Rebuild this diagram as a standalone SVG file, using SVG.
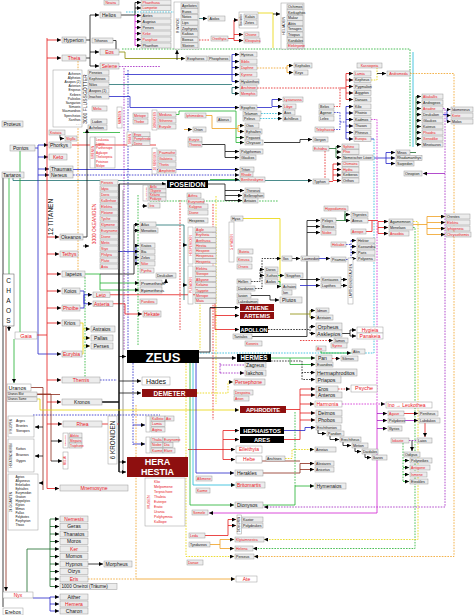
<svg xmlns="http://www.w3.org/2000/svg" width="474" height="615" viewBox="0 0 474 615">
<style>
text{font-family:"Liberation Sans",Arial,sans-serif;fill:#111}
.b{fill:#ececec;stroke:#9a9a9a;stroke-width:.5}
.w{fill:#fff;stroke:#9a9a9a;stroke-width:.5}
.k{fill:#000}
.q{fill:#8e0f0f}
.s{font-size:3.6px}
.m{font-size:5px}
.l{font-size:6px}
.r{fill:#e8141c}
.wb{fill:#fff;font-weight:bold;text-anchor:middle}
.c{text-anchor:middle}
.e{text-anchor:end}
#conn path{fill:none;stroke-width:.8}
.K{stroke:#111}.R{stroke:#e41b1b}.G{stroke:#1fb02f}.B{stroke:#2323c8}.Y{stroke:#e8d400}.O{stroke:#f0a020}.P{stroke:#a020c0}.M{stroke:#d020d0}.C{stroke:#20b8d8}.T{stroke:#1d6f6f}.N{stroke:#8b2a1a}.V{stroke:#8a8a00}.D{stroke:#1a6a2a}.GR{stroke:#808080}
.d{stroke-dasharray:1.6 1.2}
.h{stroke-width:1.5!important}
</style>
<defs>
<marker id="a" viewBox="0 0 6 6" refX="6" refY="3" markerWidth="4" markerHeight="4" orient="auto" markerUnits="userSpaceOnUse"><path d="M0,0L6,3L0,6z" fill="#000"/></marker>
</defs>
<rect width="474" height="615" fill="#fff"/>
<g id="conn">
<!-- texture dashed lines -->
<path class="O d" d="M78,61V270"/>
<path class="P d" d="M124,68V350"/>
<path class="B d" d="M128,70V350"/>
<path class="G d" d="M85,277V378"/>
<path class="R d" d="M180,200V330"/>
<path class="Y d" d="M200,285V350"/>
<path class="Y d" d="M216,196V404"/>
<path class="R d" d="M213,204V420"/>
<path class="G d" d="M138,195V345"/>
<path class="G d" d="M150,201H278"/>
<path class="Y" d="M243,218.5H280V283"/>
<path class="B d" d="M133,363V445"/>
<path class="B d" d="M33,415H160"/>
<path class="C d" d="M126,12H174"/>
<path class="P d" d="M119,66.5H160"/>
<path class="N" d="M37,394.5H60"/>
<!-- Hyperion -->
<path class="K" d="M86,40H90M86,58H90M90,15V66"/>
<path class="K" d="M90,15H99" marker-end="url(#a)"/>
<path class="K" d="M90,52H99" marker-end="url(#a)"/>
<path class="K" d="M90,66H99" marker-end="url(#a)"/>
<path class="K" d="M113,40.5H116V49"/>
<!-- Helios -->
<path class="K" d="M121,15H135M135,2.5V15"/>
<path class="K" d="M135,2.5H141" marker-end="url(#a)"/>
<path class="K" d="M135,8H141" marker-end="url(#a)"/>
<path class="M" d="M135,15V45.5"/>
<path class="M" d="M135,15.5H141" marker-end="url(#a)"/>
<path class="M" d="M135,21.5H141" marker-end="url(#a)"/>
<path class="M" d="M135,27.5H141" marker-end="url(#a)"/>
<path class="M" d="M135,33.5H141" marker-end="url(#a)"/>
<path class="M" d="M135,39.5H141" marker-end="url(#a)"/>
<path class="M" d="M135,45.5H141" marker-end="url(#a)"/>
<path class="G d" d="M122,49H410V147"/>
<path class="C" d="M413,52V147"/>
<path class="V" d="M119,52H125V58.5H185" marker-end="url(#a)"/>
<path class="K" d="M177,60V50" marker-end="url(#a)"/>
<path class="T" d="M199,18.5H207" marker-end="url(#a)"/>
<path class="R d" d="M199,40H210"/>
<path class="R" d="M228,38.5H234M234,20V40.5"/>
<path class="R" d="M234,20H238" marker-end="url(#a)"/>
<path class="R" d="M234,34.5H243" marker-end="url(#a)"/>
<path class="R" d="M234,40.5H243" marker-end="url(#a)"/>
<path class="Y" d="M255,13H273V48"/>
<path class="K" d="M273,14H280" marker-end="url(#a)"/>
<!-- Eos line to Hyrieus group -->
<path class="B" d="M125,74.5H232M232,54.5V81.5"/>
<path class="B" d="M232,54.5H239" marker-end="url(#a)"/>
<path class="B" d="M232,61.5H239" marker-end="url(#a)"/>
<path class="B" d="M232,67.5H239" marker-end="url(#a)"/>
<path class="B" d="M232,74.5H239" marker-end="url(#a)"/>
<path class="B" d="M232,81.5H239" marker-end="url(#a)"/>
<path class="O d" d="M257,68H287"/>
<path class="O" d="M287,65.5V72.5"/>
<path class="O" d="M287,65.5H293" marker-end="url(#a)"/>
<path class="O" d="M287,72.5H293" marker-end="url(#a)"/>
<path class="T" d="M109,84.5H232M232,87.5V93.5"/>
<path class="T" d="M232,87.5H239" marker-end="url(#a)"/>
<path class="T" d="M232,93.5H239" marker-end="url(#a)"/>
<path class="R d" d="M257,88H340V106.5H334"/>
<path class="R" d="M340,88H346M346,73.5V99.5"/>
<path class="R" d="M346,73.5H353" marker-end="url(#a)"/>
<path class="R" d="M346,80H353" marker-end="url(#a)"/>
<path class="R" d="M346,86.5H353" marker-end="url(#a)"/>
<path class="R" d="M346,93H353" marker-end="url(#a)"/>
<path class="R" d="M346,99.5H353" marker-end="url(#a)"/>
<path class="B d" d="M334,112.5H340V129.5H334M340,122H346"/>
<path class="B" d="M346,106.5V139"/>
<path class="B" d="M346,106.5H353" marker-end="url(#a)"/>
<path class="B" d="M346,113H353" marker-end="url(#a)"/>
<path class="B" d="M346,119.5H353" marker-end="url(#a)"/>
<path class="B" d="M346,126H353" marker-end="url(#a)"/>
<path class="B" d="M346,132.5H353" marker-end="url(#a)"/>
<path class="B" d="M346,139H353" marker-end="url(#a)"/>
<path class="B" d="M109,96.5H130V107.5H239" marker-end="url(#a)"/>
<path class="B" d="M257,107.5H272M272,99.5V106.5"/>
<path class="B" d="M272,99.5H282" marker-end="url(#a)"/>
<path class="B" d="M272,106.5H282" marker-end="url(#a)"/>
<path class="C d" d="M261,113.5H282" marker-end="url(#a)"/>
<path class="C d" d="M260,118.5H282" marker-end="url(#a)"/>
<path class="Y d" d="M371,80H377V65.5H382"/>
<path class="K" d="M377,73.5H386" marker-end="url(#a)"/>
<path class="O d" d="M410,73.5H454V556.5H254" marker-end="url(#a)"/>
<path class="P d" d="M443,108.5H445V507H264" marker-end="url(#a)"/>
<path class="P" d="M445,173.5H423" marker-end="url(#a)"/>
<path class="D" d="M410,152.5H416M416,96.5V144.5"/>
<path class="D" d="M416,96.5H421" marker-end="url(#a)"/>
<path class="D" d="M416,102.5H421" marker-end="url(#a)"/>
<path class="D" d="M416,108.5H421" marker-end="url(#a)"/>
<path class="D" d="M416,114.5H421" marker-end="url(#a)"/>
<path class="D" d="M416,120.5H421" marker-end="url(#a)"/>
<path class="D" d="M416,126.5H421" marker-end="url(#a)"/>
<path class="D" d="M416,132.5H421" marker-end="url(#a)"/>
<path class="D" d="M416,138.5H421" marker-end="url(#a)"/>
<path class="D" d="M416,144.5H421" marker-end="url(#a)"/>
<path class="B" d="M443,114.5H447M447,109.5V121.5"/>
<path class="B" d="M447,109.5H450.5" marker-end="url(#a)"/>
<path class="B" d="M447,115.5H450.5" marker-end="url(#a)"/>
<path class="B" d="M447,121.5H450.5" marker-end="url(#a)"/>
<path class="B" d="M371,139H374M374,158H386M386,152.5V163.5"/>
<path class="B" d="M386,152.5H395" marker-end="url(#a)"/>
<path class="B" d="M386,158H395" marker-end="url(#a)"/>
<path class="B" d="M386,163.5H395" marker-end="url(#a)"/>
<path class="C d" d="M374,139V353H200"/>
<path class="M d" d="M371,119.5H377V405"/>
<path class="M d" d="M342,404H385" marker-end="url(#a)"/>
<path class="D" d="M329,148.5H336M336,146.5V157.5"/>
<path class="D" d="M336,146.5H341" marker-end="url(#a)"/>
<path class="D" d="M336,152H341" marker-end="url(#a)"/>
<path class="D" d="M336,157.5H341" marker-end="url(#a)"/>
<path class="R" d="M329,181.5H333M333,164V180.5"/>
<path class="R" d="M333,164H341" marker-end="url(#a)"/>
<path class="R" d="M333,169.5H341" marker-end="url(#a)"/>
<path class="R" d="M333,175H341" marker-end="url(#a)"/>
<path class="R" d="M333,180.5H341" marker-end="url(#a)"/>
<path class="R d" d="M325,151V179"/>
<path class="T" d="M13,178V180.5H312" marker-end="url(#a)"/>
<path class="K" d="M264,142.5H300V139.5H312" marker-end="url(#a)"/>
<!-- Pontos -->
<path class="B" d="M35,148H38M38,145V354"/>
<path class="B" d="M38,145H48" marker-end="url(#a)"/>
<path class="B" d="M38,157H48" marker-end="url(#a)"/>
<path class="B" d="M38,169H49" marker-end="url(#a)"/>
<path class="B" d="M38,175H49" marker-end="url(#a)"/>
<path class="B" d="M38,354H61" marker-end="url(#a)"/>
<path class="G" d="M20,151V332M9,178V274"/>
<path class="G" d="M14,339V383" marker-end="url(#a)"/>
<path class="K" d="M3,178V607"/>
<path class="K" d="M9,326V331" marker-end="url(#a)"/>
<path class="N" d="M6,326V591" marker-end="url(#a)"/>
<path class="R" d="M72,145H156"/>
<path class="K" d="M60,135V138.5H64" marker-end="url(#a)"/>
<path class="G" d="M83,132.5H120"/>
<path class="G" d="M176,114.5H179V111H236V142.5"/>
<path class="G" d="M236,137.5H244" marker-end="url(#a)"/>
<path class="G" d="M236,142.5H244" marker-end="url(#a)"/>
<path class="O" d="M206,115.5H212V128.5H238M238,125.5V131.5"/>
<path class="O" d="M238,125.5H244" marker-end="url(#a)"/>
<path class="O" d="M238,131.5H244" marker-end="url(#a)"/>
<path class="O" d="M184,129.5H192" marker-end="url(#a)"/>
<path class="K" d="M202,144.5H225V151.5H239" marker-end="url(#a)"/>
<path class="K" d="M225,151.5V157.5H239" marker-end="url(#a)"/>
<path class="B" d="M73,169.5H239" marker-end="url(#a)"/>
<path class="B d" d="M73,175H239" marker-end="url(#a)"/>
<path class="G" d="M210,179.5H239" marker-end="url(#a)"/>
<path class="K" d="M208,184H225M225,184V200.5"/>
<path class="K" d="M225,190.5H244" marker-end="url(#a)"/>
<path class="K" d="M225,195.5H242" marker-end="url(#a)"/>
<path class="K" d="M225,200.5H242" marker-end="url(#a)"/>
<path class="K" d="M142,206H147" marker-end="url(#a)"/>
<!-- Titans -->
<path class="R" d="M47,38V488.5M37,335H47"/>
<path class="R" d="M47,40H61" marker-end="url(#a)"/>
<path class="R" d="M47,58H61" marker-end="url(#a)"/>
<path class="R" d="M47,237H59" marker-end="url(#a)"/>
<path class="R" d="M47,254H59" marker-end="url(#a)"/>
<path class="R" d="M47,274H61" marker-end="url(#a)"/>
<path class="R" d="M47,291H61" marker-end="url(#a)"/>
<path class="R" d="M47,308H61" marker-end="url(#a)"/>
<path class="R" d="M47,323H61" marker-end="url(#a)"/>
<path class="R" d="M47,380H61" marker-end="url(#a)"/>
<path class="R" d="M47,402H61" marker-end="url(#a)"/>
<path class="R" d="M47,424H62" marker-end="url(#a)"/>
<path class="R" d="M47,488.5H59" marker-end="url(#a)"/>
<path class="N" d="M31,387.5H43V490"/>
<path class="K" d="M43,427H35" marker-end="url(#a)"/>
<path class="K" d="M43,456H35" marker-end="url(#a)"/>
<path class="K" d="M43,483H39" marker-end="url(#a)"/>
<path class="N" d="M37,394H51V461"/>
<path class="K" d="M51,441H62" marker-end="url(#a)"/>
<path class="K" d="M51,461H62" marker-end="url(#a)"/>
<path class="K" d="M83,237H87V129" marker-end="url(#a)"/>
<path class="K" d="M83,246H89" marker-end="url(#a)"/>
<path class="G" d="M85,274H100V290H139" marker-end="url(#a)"/>
<path class="G" d="M100,283H139" marker-end="url(#a)"/>
<path class="K" d="M100,274H134V224.5"/>
<path class="K" d="M134,224.5H139" marker-end="url(#a)"/>
<path class="K" d="M134,230.5H139" marker-end="url(#a)"/>
<path class="B" d="M118,251.5H136M136,245.5V263.5"/>
<path class="B" d="M136,245.5H139" marker-end="url(#a)"/>
<path class="B" d="M136,251.5H139" marker-end="url(#a)"/>
<path class="B" d="M136,257.5H139" marker-end="url(#a)"/>
<path class="B" d="M136,263.5H139" marker-end="url(#a)"/>
<path class="K" d="M162,283H166V279" marker-end="url(#a)"/>
<path class="B" d="M80,291H84V308H80M84,294.75V303.75"/>
<path class="B" d="M84,294.75H92" marker-end="url(#a)"/>
<path class="B" d="M84,303.75H92" marker-end="url(#a)"/>
<path class="R" d="M110,294.75H215V329.5M215,308H210"/>
<path class="R" d="M215,315.5H239" marker-end="url(#a)"/>
<path class="R" d="M215,329.5H239" marker-end="url(#a)"/>
<path class="R" d="M113,303.75H125V314H142" marker-end="url(#a)"/>
<path class="Y" d="M80,323H83M82,354H83M83,323V354"/>
<path class="Y" d="M83,329H90" marker-end="url(#a)"/>
<path class="Y" d="M83,338H90" marker-end="url(#a)"/>
<path class="Y" d="M83,346H90" marker-end="url(#a)"/>
<path class="B d" d="M100,380H117"/>
<!-- Kroniden -->
<path class="K h" d="M102,402H119M119,184V472"/>
<path class="R" d="M102,424H119"/>
<path class="GR" d="M123,190V470"/>
<path class="K" d="M119,184H166" marker-end="url(#a)"/>
<path class="K" d="M119,356.5H126" marker-end="url(#a)"/>
<path class="K" d="M119,381H141" marker-end="url(#a)"/>
<path class="K" d="M119,393H141" marker-end="url(#a)"/>
<path class="K" d="M119,462H126" marker-end="url(#a)"/>
<path class="K" d="M119,472H126" marker-end="url(#a)"/>
<path class="B" d="M133,425H145" marker-end="url(#a)"/>
<path class="B" d="M133,444H145" marker-end="url(#a)"/>
<!-- Zeus -->
<path class="K" d="M199,358H236" marker-end="url(#a)"/>
<path class="K" d="M199,352H210V307.5H239" marker-end="url(#a)"/>
<path class="Y d" d="M197,393H228V382H233" marker-end="url(#a)"/>
<path class="P d" d="M220,363V373M220,365H244"/>
<path class="P d" d="M220,373H244" marker-end="url(#a)"/>
<path class="R" d="M188,449.5H223M223,430.5V459.5"/>
<path class="R" d="M223,430.5H239" marker-end="url(#a)"/>
<path class="R" d="M223,439.5H239" marker-end="url(#a)"/>
<path class="R" d="M223,449.5H235" marker-end="url(#a)"/>
<path class="R" d="M223,459.5H235" marker-end="url(#a)"/>
<path class="Y" d="M37,399H40V410H239" marker-end="url(#a)"/>
<path class="R" d="M286,409.5H300M300,389V439.5H284"/>
<path class="R" d="M300,389H315" marker-end="url(#a)"/>
<path class="R" d="M300,395H315" marker-end="url(#a)"/>
<path class="R" d="M300,404H314" marker-end="url(#a)"/>
<path class="R" d="M300,413H315" marker-end="url(#a)"/>
<path class="R" d="M300,420H315" marker-end="url(#a)"/>
<path class="B" d="M284,430.5H305V427.5H315" marker-end="url(#a)"/>
<path class="Y d" d="M285,458.5H292V449.5H314" marker-end="url(#a)"/>
<path class="N" d="M262,461H300M263,473H300M300,463.5V473"/>
<path class="N" d="M300,463.5H314" marker-end="url(#a)"/>
<path class="N" d="M300,469.5H314" marker-end="url(#a)"/>
<path class="G d" d="M295,412V486"/>
<path class="G" d="M263,505H295V486H314" marker-end="url(#a)"/>
<path class="B" d="M196,363V473H234" marker-end="url(#a)"/>
<path class="C" d="M193,363V485H235" marker-end="url(#a)"/>
<path class="G" d="M190,363V505H234" marker-end="url(#a)"/>
<path class="M" d="M377,405V513H209" marker-end="url(#a)"/>
<path class="R" d="M205,535.5H228V519.5M228,519.5H236" marker-end="url(#a)"/>
<path class="R" d="M228,525.5H236" marker-end="url(#a)"/>
<path class="O" d="M210,544.5H220M220,539.5V548.5"/>
<path class="O" d="M220,539.5H234" marker-end="url(#a)"/>
<path class="O" d="M220,548.5H234" marker-end="url(#a)"/>
<path class="Y d" d="M186,363V556.5H234" marker-end="url(#a)"/>
<path class="O d" d="M88,579H136M136,405V579"/>
<path class="O" d="M136,579H235" marker-end="url(#a)"/>
<!-- Nyx -->
<path class="D" d="M27,592V549H50M50,519V586.5"/>
<path class="D" d="M50,519H59" marker-end="url(#a)"/>
<path class="D" d="M50,526.5H59" marker-end="url(#a)"/>
<path class="D" d="M50,534H59" marker-end="url(#a)"/>
<path class="D" d="M50,541.5H59" marker-end="url(#a)"/>
<path class="D" d="M50,549H59" marker-end="url(#a)"/>
<path class="D" d="M50,556.5H59" marker-end="url(#a)"/>
<path class="D" d="M50,564H59" marker-end="url(#a)"/>
<path class="D" d="M50,571.5H59" marker-end="url(#a)"/>
<path class="D" d="M50,579H59" marker-end="url(#a)"/>
<path class="D" d="M50,586.5H59" marker-end="url(#a)"/>
<path class="K" d="M88,564H103" marker-end="url(#a)"/>
<path class="B" d="M33,598H50M50,597V611"/>
<path class="B" d="M50,597H59" marker-end="url(#a)"/>
<path class="B" d="M50,604H59" marker-end="url(#a)"/>
<path class="B" d="M50,611H59" marker-end="url(#a)"/>
<!-- Atlas / Pleiaden -->
<path class="T" d="M156,225H184V300"/>
<path class="T" d="M184,245H187" marker-end="url(#a)"/>
<path class="T" d="M184,285H187" marker-end="url(#a)"/>
<path class="K d" d="M251,281.5H260M260,269.5V281.5"/>
<path class="K" d="M260,269.5H264" marker-end="url(#a)"/>
<path class="K" d="M260,275.5H264" marker-end="url(#a)"/>
<path class="G" d="M278,275.5H284" marker-end="url(#a)"/>
<path class="G" d="M278,281.5H280V286.5H281" marker-end="url(#a)"/>
<path class="K d" d="M255,288.5H262V258.5H281" marker-end="url(#a)"/>
<path class="K" d="M292,258.5H300" marker-end="url(#a)"/>
<path class="B" d="M318,258.5H330" marker-end="url(#a)"/>
<path class="K" d="M251,295.5H270V300H279" marker-end="url(#a)"/>
<path class="K" d="M252,336.5H307V220.5H320" marker-end="url(#a)"/>
<path class="K" d="M307,226.5H320" marker-end="url(#a)"/>
<path class="K" d="M307,232.5H320" marker-end="url(#a)"/>
<path class="D" d="M336,220.5H345V208.5H348M345,214.5V220.5"/>
<path class="D" d="M345,214.5H350" marker-end="url(#a)"/>
<path class="D" d="M345,220.5H350" marker-end="url(#a)"/>
<path class="R" d="M368,220.5H378M366,231.5H372V220.5M378,221.5V233.5"/>
<path class="R" d="M378,221.5H388" marker-end="url(#a)"/>
<path class="R" d="M378,227.5H388" marker-end="url(#a)"/>
<path class="R" d="M378,233.5H388" marker-end="url(#a)"/>
<path class="O" d="M413,224.5H427M427,216.5V234.5"/>
<path class="O" d="M427,216.5H445" marker-end="url(#a)"/>
<path class="O" d="M427,222.5H445" marker-end="url(#a)"/>
<path class="O" d="M427,228.5H445" marker-end="url(#a)"/>
<path class="O" d="M427,234.5H445" marker-end="url(#a)"/>
<path class="G d" d="M413,227.5H415V548.5H253" marker-end="url(#a)"/>
<path class="Y d" d="M413,221.5H418V539.5H264" marker-end="url(#a)"/>
<path class="B d" d="M346,244.5H351M346,259.5H351M351,240.5V258.5"/>
<path class="B" d="M351,240.5H356" marker-end="url(#a)"/>
<path class="B" d="M351,246.5H356" marker-end="url(#a)"/>
<path class="B" d="M351,252.5H356" marker-end="url(#a)"/>
<path class="B" d="M351,258.5H356" marker-end="url(#a)"/>
<path class="K" d="M300,279.5H320" marker-end="url(#a)"/>
<path class="B" d="M300,285.5H320" marker-end="url(#a)"/>
<path class="K" d="M341,279.5H347" marker-end="url(#a)"/>
<path class="K" d="M341,285.5H347" marker-end="url(#a)"/>
<path class="K d" d="M268,329.5H310M310,326.5V333.5"/>
<path class="K" d="M310,326.5H315" marker-end="url(#a)"/>
<path class="K" d="M310,333.5H315" marker-end="url(#a)"/>
<path class="K" d="M342,333.5H350M350,330V336"/>
<path class="K" d="M350,330H356" marker-end="url(#a)"/>
<path class="K" d="M350,336H356" marker-end="url(#a)"/>
<path class="V" d="M290,314H310M310,310.5V317.5"/>
<path class="V" d="M310,310.5H315" marker-end="url(#a)"/>
<path class="V" d="M310,317.5H315" marker-end="url(#a)"/>
<path class="R d" d="M300,340.5H333" marker-end="url(#a)"/>
<path class="G" d="M271,358H315" marker-end="url(#a)"/>
<path class="G" d="M290,358V364.5H315" marker-end="url(#a)"/>
<path class="K d" d="M271,361H302V372.5H315" marker-end="url(#a)"/>
<path class="K d" d="M302,372.5V379.5H315" marker-end="url(#a)"/>
<path class="R d" d="M332,358.5H340" marker-end="url(#a)"/>
<path class="G" d="M321,351V353H351" marker-end="url(#a)"/>
<path class="R d" d="M338,389H350" marker-end="url(#a)"/>
<!-- Attika / Theben -->
<path class="K" d="M318,430V433.5H326" marker-end="url(#a)"/>
<path class="K" d="M330,436V439.5H339" marker-end="url(#a)"/>
<path class="K" d="M343,442V445.5H351" marker-end="url(#a)"/>
<path class="K" d="M355,448V451.5H361" marker-end="url(#a)"/>
<path class="K" d="M365,454V457.5H371" marker-end="url(#a)"/>
<path class="P" d="M377,413.5H387" marker-end="url(#a)"/>
<path class="P" d="M377,420.5H387" marker-end="url(#a)"/>
<path class="P" d="M377,428.5H387" marker-end="url(#a)"/>
<path class="R" d="M404,413.5H418" marker-end="url(#a)"/>
<path class="P" d="M405,420.5H418" marker-end="url(#a)"/>
<path class="R" d="M425,423V437" marker-end="url(#a)"/>
<path class="P d" d="M409,440.5H416"/>
<path class="K" d="M412,440.5V451" marker-end="url(#a)"/>
<path class="G d" d="M403,443V481.5"/>
<path class="G" d="M403,460.5H409" marker-end="url(#a)"/>
<path class="G" d="M403,467.5H409" marker-end="url(#a)"/>
<path class="G" d="M403,474.5H409" marker-end="url(#a)"/>
<path class="G" d="M403,481.5H409" marker-end="url(#a)"/>
</g>
<g id="nodes">
<!-- top -->
<g id="n-neaira"><rect class="b" x="104" y="0" width="15" height="5"/><text class="s r" x="105.5" y="3.9">Neaira</text></g>
<g id="n-helios"><rect class="b" x="100" y="12" width="21" height="6"/><text class="m" x="102" y="16.8">Helios</text></g>
<g id="n-hyperion"><rect class="b" x="62" y="37" width="24" height="6"/><text class="m" x="63.5" y="41.8">Hyperion</text></g>
<g id="n-theia"><rect class="b" x="62" y="55" width="24" height="6"/><text class="m r c" x="74" y="59.8">Theia</text></g>
<g id="n-tithonos"><rect class="b" x="92" y="38" width="21" height="5"/><text class="s" x="94" y="41.9">Tithonos</text></g>
<g id="n-eos"><rect class="b" x="100" y="49" width="19" height="6"/><text class="m r c" x="109.5" y="53.8">Eos</text></g>
<g id="n-selene"><rect class="b" x="100" y="63" width="19" height="6"/><text class="m r c" x="109.5" y="67.8">Selene</text></g>
<g id="n-heliades-l">
<rect class="b" x="141" y="0" width="30" height="5"/><text class="s r" x="142.5" y="3.9">Phaethusa</text>
<rect class="b" x="141" y="5.5" width="30" height="5"/><text class="s r" x="142.5" y="9.4">Lampetie</text>
<rect class="b" x="141" y="13" width="30" height="5"/><text class="s" x="142.5" y="16.9">Aietes</text>
<rect class="b" x="141" y="19" width="30" height="5"/><text class="s" x="142.5" y="22.9">Augeias</text>
<rect class="b" x="141" y="25" width="30" height="5"/><text class="s" x="142.5" y="28.9">Perses</text>
<rect class="b" x="141" y="31" width="30" height="5"/><text class="s r" x="142.5" y="34.9">Kirke</text>
<rect class="b" x="141" y="37" width="30" height="5"/><text class="s r" x="142.5" y="40.9">Pasiphae</text>
<rect class="b" x="141" y="43" width="30" height="5"/><text class="s" x="142.5" y="46.9">Phaethon</text>
</g>
<g id="n-anemoi"><rect class="w" x="174" y="2" width="25" height="47"/><text class="s c" transform="translate(179,25.5) rotate(-90)">8 WINDE</text>
<rect class="b" x="181" y="3" width="17" height="5"/><text class="s" x="182" y="6.9">Apeliotes</text>
<rect class="b" x="181" y="8.7" width="17" height="5"/><text class="s" x="182" y="12.6">Euros</text>
<rect class="b" x="181" y="14.4" width="17" height="5"/><text class="s" x="182" y="18.3">Notos</text>
<rect class="b" x="181" y="20.1" width="17" height="5"/><text class="s" x="182" y="24">Lips</text>
<rect class="b" x="181" y="25.8" width="17" height="5"/><text class="s" x="182" y="29.7">Zephyros</text>
<rect class="b" x="181" y="31.5" width="17" height="5"/><text class="s" x="182" y="35.4">Kaikias</text>
<rect class="b" x="181" y="37.2" width="17" height="5"/><text class="s" x="182" y="41.1">Boreas</text>
<rect class="b" x="181" y="42.9" width="17" height="5"/><text class="s" x="182" y="46.8">Skeiron</text>
</g>
<g id="n-aiolos-w"><rect class="b" x="208" y="16" width="17" height="5"/><text class="s" x="209.5" y="19.9">Aiolos</text></g>
<g id="n-boreaden"><rect class="w" x="239" y="12" width="19" height="16"/><text class="s c" transform="translate(242,20) rotate(-90)" style="font-size:2.6px">Boreaden</text>
<rect class="b" x="244" y="14" width="13" height="5"/><text class="s" x="245" y="17.9">Kalais</text>
<rect class="b" x="244" y="20" width="13" height="5"/><text class="s" x="245" y="23.9">Zetes</text></g>
<g id="n-oreithyia"><rect class="b" x="211" y="36" width="17" height="5"/><text class="s r" x="212" y="39.9">Oreithyia</text></g>
<g id="n-chione"><rect class="b" x="244" y="32" width="15" height="5"/><text class="s r" x="245" y="35.9">Chione</text></g>
<g id="n-kleopatra"><rect class="b" x="244" y="38" width="16" height="5"/><text class="s r" x="245" y="41.9">Kleopatra</text></g>
<g id="n-heliaden"><rect class="w" x="281" y="3" width="23" height="46"/><text class="s c" transform="translate(284.5,26) rotate(-90)">HELIADEN</text>
<rect class="b" x="287" y="4" width="16" height="5"/><text class="s" x="288" y="7.9">Ochimos</text>
<rect class="b" x="287" y="9.6" width="16" height="5"/><text class="s" x="288" y="13.5">Kerkaphos</text>
<rect class="b" x="287" y="15.2" width="16" height="5"/><text class="s" x="288" y="19.1">Makar</text>
<rect class="b" x="287" y="20.8" width="16" height="5"/><text class="s" x="288" y="24.7">Aktis</text>
<rect class="b" x="287" y="26.4" width="16" height="5"/><text class="s" x="288" y="30.3">Tenages</text>
<rect class="b" x="287" y="32" width="16" height="5"/><text class="s" x="288" y="35.9">Triopas</text>
<rect class="b" x="287" y="37.6" width="16" height="5"/><text class="s" x="288" y="41.5">Kandalos</text>
<rect class="b" x="287" y="43.2" width="16" height="5"/><text class="s r" x="288" y="47.1">Elektryone</text>
</g>
<g id="n-eosphoros"><rect class="b" x="186" y="56" width="21" height="5"/><text class="s" x="187" y="59.9">Eosphoros</text></g>
<g id="n-phosphoros"><rect class="b" x="208" y="56" width="22" height="5"/><text class="s" x="209" y="59.9">Phosphoros</text></g>
<g id="n-hyrieus"><rect class="b" x="240" y="52" width="17" height="5"/><text class="s" x="241" y="55.9">Hyrieus</text></g>
<g id="n-biblis"><rect class="b" x="240" y="59" width="17" height="5"/><text class="s r" x="241" y="62.9">Biblis</text></g>
<g id="n-daphne"><rect class="b" x="240" y="65" width="17" height="5"/><text class="s r" x="241" y="68.9">Daphne</text></g>
<g id="n-kyrene"><rect class="b" x="240" y="72" width="17" height="5"/><text class="s r" x="241" y="75.9">Kyrene</text></g>
<g id="n-hyakinthos"><rect class="b" x="240" y="79" width="19" height="5"/><text class="s" x="241" y="82.9">Hyakinthos</text></g>
<g id="n-anchinoe"><rect class="b" x="240" y="85" width="17" height="5"/><text class="s r" x="241" y="88.9">Anchinoe</text></g>
<g id="n-memphis"><rect class="b" x="240" y="91" width="17" height="5"/><text class="s r" x="241" y="94.9">Memphis</text></g>
<g id="n-kephalos"><rect class="b" x="294" y="63" width="18" height="5"/><text class="s" x="295" y="66.9">Kephalos</text></g>
<g id="n-keyx"><rect class="b" x="294" y="70" width="14" height="5"/><text class="s" x="295" y="73.9">Keyx</text></g>
<g id="n-epaphos"><rect class="b" x="240" y="105" width="17" height="5"/><text class="s" x="241" y="108.9">Epaphos</text></g>
<g id="n-telamon"><rect class="b" x="243" y="111" width="18" height="5"/><text class="s" x="244" y="114.9">Telamon</text></g>
<g id="n-peleus"><rect class="b" x="243" y="116" width="17" height="5"/><text class="s" x="244" y="119.9">Peleus</text></g>
<g id="n-lysianassa"><rect class="b" x="283" y="97" width="20" height="5"/><text class="s r" x="284" y="100.9">Lysianassa</text></g>
<g id="n-libye"><rect class="b" x="283" y="104" width="13" height="5"/><text class="s r" x="284" y="107.9">Libye</text></g>
<g id="n-aias"><rect class="b" x="283" y="110" width="12" height="5"/><text class="s" x="284" y="113.9">Aias</text></g>
<g id="n-achilleus"><rect class="b" x="283" y="116" width="18" height="5"/><text class="s" x="284" y="119.9">Achilleus</text></g>
<g id="n-kassiopeia"><rect class="b" x="357" y="63" width="25" height="5"/><text class="s r c" x="369.5" y="66.9">Kassiopeia</text></g>
<g id="n-andromeda"><rect class="b" x="387" y="71" width="23" height="5"/><text class="s r c" x="398.5" y="74.9">Andromeda</text></g>
<g id="n-belos-kids">
<rect class="b" x="354" y="71" width="17" height="5"/><text class="s r" x="355" y="74.9">Lamia</text>
<rect class="b" x="354" y="77.5" width="17" height="5"/><text class="s" x="355" y="81.4">Kepheus</text>
<rect class="b" x="354" y="84" width="17" height="5"/><text class="s" x="355" y="87.9">Pygmalion</text>
<rect class="b" x="354" y="90.5" width="17" height="5"/><text class="s" x="355" y="94.4">Aigyptos</text>
<rect class="b" x="354" y="97" width="17" height="5"/><text class="s" x="355" y="100.9">Danaos</text>
</g>
<g id="n-belos"><rect class="b" x="319" y="104" width="15" height="5"/><text class="s" x="320" y="107.9">Belos</text></g>
<g id="n-agenor"><rect class="b" x="319" y="110" width="15" height="5"/><text class="s" x="320" y="113.9">Agenor</text></g>
<g id="n-lelex"><rect class="b" x="319" y="116" width="15" height="5"/><text class="s" x="320" y="119.9">Lelex</text></g>
<g id="n-telephassa"><rect class="b" x="315" y="127" width="19" height="5"/><text class="s r" x="316" y="130.9">Telephassa</text></g>
<g id="n-agenor-kids">
<rect class="b" x="354" y="104" width="17" height="5"/><text class="s" x="355" y="107.9">Kilix</text>
<rect class="b" x="354" y="110.5" width="17" height="5"/><text class="s" x="355" y="114.4">Phoinix</text>
<rect class="b" x="354" y="117" width="17" height="5"/><text class="s" x="355" y="120.9">Kadmos</text>
<rect class="b" x="354" y="123.5" width="17" height="5"/><text class="s" x="355" y="127.4">Thasos</text>
<rect class="b" x="354" y="130" width="17" height="5"/><text class="s" x="355" y="133.9">Phineus</text>
<rect class="b" x="354" y="136.5" width="17" height="5"/><text class="s r" x="355" y="140.4">Europa</text>
</g>
<g id="n-geryon"><rect class="b" x="313" y="137" width="15" height="5"/><text class="s" x="314" y="140.9">Geryon</text></g>
<g id="n-echidna"><rect class="b" x="313" y="146" width="16" height="5"/><text class="s r" x="314" y="149.9">Echidna</text></g>
<g id="n-echidna-kids">
<rect class="b" x="342" y="144" width="17" height="5"/><text class="s r" x="343" y="147.9">Sphinx</text>
<rect class="b" x="342" y="149.5" width="17" height="5"/><text class="s r" x="343" y="153.4">Phix</text>
<rect class="b" x="342" y="155" width="31" height="5"/><text class="s" x="343" y="158.9">Nemeischer Löwe</text>
<rect class="b" x="342" y="161.5" width="17" height="5"/><text class="s r" x="343" y="165.4">Chimaira</text>
<rect class="b" x="342" y="167" width="17" height="5"/><text class="s r" x="343" y="170.9">Hydra</text>
<rect class="b" x="342" y="172.5" width="17" height="5"/><text class="s" x="343" y="176.4">Kerberos</text>
<rect class="b" x="342" y="178" width="17" height="5"/><text class="s" x="343" y="181.9">Orthos</text>
</g>
<g id="n-minos"><rect class="b" x="396" y="150" width="14" height="5"/><text class="s" x="397" y="153.9">Minos</text></g>
<g id="n-rhadamanthys"><rect class="b" x="396" y="155.5" width="26" height="5"/><text class="s" x="397" y="159.4">Rhadamanthys</text></g>
<g id="n-sarpedon"><rect class="b" x="396" y="161" width="18" height="5"/><text class="s" x="397" y="164.9">Sarpedon</text></g>
<g id="n-typhon"><rect class="b" x="313" y="179" width="16" height="5"/><text class="s" x="314" y="182.9">Typhon</text></g>
<g id="n-oinopion"><rect class="b" x="404" y="171" width="18" height="5"/><text class="s" x="405" y="174.9">Oinopion</text></g>
<g id="n-minos-kids">
<rect class="b" x="422" y="94" width="21" height="5"/><text class="s r" x="423" y="97.9">Akakallis</text>
<rect class="b" x="422" y="100" width="21" height="5"/><text class="s" x="423" y="103.9">Androgeos</text>
<rect class="b" x="422" y="106" width="21" height="5"/><text class="s r" x="423" y="109.9">Ariadne</text>
<rect class="b" x="422" y="112" width="21" height="5"/><text class="s" x="423" y="115.9">Deukalion</text>
<rect class="b" x="422" y="118" width="21" height="5"/><text class="s" x="423" y="121.9">Glaukos</text>
<rect class="b" x="422" y="124" width="21" height="5"/><text class="s" x="423" y="127.9">Katreus</text>
<rect class="b" x="422" y="130" width="21" height="5"/><text class="s r" x="423" y="133.9">Phaidra</text>
<rect class="b" x="422" y="136" width="21" height="5"/><text class="s r" x="423" y="139.9">Xenodike</text>
<rect class="b" x="422" y="142" width="21" height="5"/><text class="s" x="423" y="145.9">Minotauros</text>
</g>
<g id="n-deukalion-kids">
<rect class="b" x="451" y="107" width="22" height="5"/><text class="s" x="452" y="110.9">Idomeneus</text>
<rect class="b" x="451" y="113" width="22" height="5"/><text class="s r" x="452" y="116.9">Krete</text>
<rect class="b" x="451" y="119" width="22" height="5"/><text class="s" x="452" y="122.9">Molos</text>
</g>
<!-- left upper -->
<g id="n-flussgoetter"><rect class="w" x="53" y="70" width="29" height="57"/>
<text class="e" style="font-size:3.3px" x="80.5"><tspan x="80.5" y="74.5">Acheron</tspan><tspan x="80.5" y="78.7">Alpheios</tspan><tspan x="80.5" y="82.9">Asopos (2)</tspan><tspan x="80.5" y="87.1">Asterion</tspan><tspan x="80.5" y="91.3">Enipeus</tspan><tspan x="80.5" y="95.5">Kebren</tspan><tspan x="80.5" y="99.7">Paktolos</tspan><tspan x="80.5" y="103.9">Sangarios</tspan><tspan x="80.5" y="108.1">Simoeis</tspan><tspan x="80.5" y="112.3">Skamandros</tspan><tspan x="80.5" y="116.5">Spercheios</tspan><tspan x="80.5" y="120.7">Xanthos</tspan><tspan x="80.5" y="124.9">. . .</tspan></text>
<text class="c" style="font-size:5px" transform="translate(86.5,99) rotate(-90)">3000 FLUSSGÖTTER</text></g>
<g id="n-fluesse2">
<rect class="b" x="88" y="70" width="21" height="5"/><text class="s" x="89" y="73.9">Peneios</text>
<rect class="b" x="88" y="76" width="21" height="5"/><text class="s" x="89" y="79.9">Kephissos</text>
<rect class="b" x="88" y="82" width="21" height="5"/><text class="s" x="89" y="85.9">Nilos</text>
<rect class="b" x="88" y="88" width="21" height="5"/><text class="s" x="89" y="91.9">Asopos (1)</text>
<rect class="b" x="88" y="94" width="21" height="5"/><text class="s" x="89" y="97.9">Inachos</text>
</g>
<g id="n-melia"><rect class="b" x="92" y="106" width="15" height="5"/><text class="s r" x="93" y="109.9">Melia</text></g>
<g id="n-ladon"><rect class="b" x="91" y="119" width="16" height="5"/><text class="s" x="92" y="122.9">Ladon</text></g>
<g id="n-acheloos"><rect class="b" x="88" y="125" width="19" height="5"/><text class="s" x="89" y="128.9">Acheloos</text></g>
<g id="n-proteus"><rect class="b" x="2" y="121" width="21" height="6"/><text class="m" x="3.5" y="125.8">Proteus</text></g>
<g id="n-pontos"><rect class="b" x="10" y="145" width="25" height="6"/><text class="m" x="13" y="149.8">Pontos</text></g>
<g id="n-phorkys"><rect class="b" x="49" y="142" width="22" height="6"/><text class="m" x="50" y="146.8">Phorkys</text></g>
<g id="n-keto"><rect class="b" x="49" y="154" width="18" height="6"/><text class="m r" x="53" y="158.8">Keto</text></g>
<g id="n-thaumas"><rect class="b" x="50" y="166" width="23" height="6"/><text class="m" x="51" y="170.8">Thaumas</text></g>
<g id="n-nereus"><rect class="b" x="50" y="172" width="23" height="6"/><text class="m" x="51" y="176.8">Nereus</text></g>
<g id="n-tartaros"><rect class="b" x="2" y="172" width="22" height="6"/><text class="m" x="3" y="176.8">Tartaros</text></g>
<g id="n-krataia"><rect class="b" x="49" y="130" width="16" height="5"/><text class="s r" x="50" y="133.9">Krataia</text></g>
<g id="n-skylla"><rect class="b" x="65" y="136" width="12" height="5"/><text class="s r" x="66" y="139.9">Skylla</text></g>
<g id="n-sirenen"><rect class="w" x="90" y="137" width="5" height="31"/><text class="c r" style="font-size:3px" transform="translate(93.5,152.5) rotate(-90)">SIRENEN</text>
<text class="r" style="font-size:3.2px"><tspan x="96" y="140.5">Leukosia</tspan><tspan x="96" y="144.9">Ligeia</tspan><tspan x="96" y="149.3">Parthenope</tspan><tspan x="96" y="153.7">Aglaope</tspan><tspan x="96" y="158.1">Thelxiepeia</tspan><tspan x="96" y="162.5">Peisinoe</tspan><tspan x="96" y="166.9">Molpe</tspan></text>
<rect x="95" y="137" width="20" height="31" fill="none" stroke="#9a9a9a" stroke-width=".5"/></g>
<g id="n-naiaden"><rect class="w" x="117" y="107" width="5" height="21"/><text class="c r" style="font-size:3px" transform="translate(120.5,117.5) rotate(-90)">NAIADEN</text></g>
<g id="n-metope"><rect class="b" x="133" y="113" width="15" height="5"/><text class="s r" x="134" y="116.9">Metope</text></g>
<g id="n-daphne2"><rect class="b" x="133" y="119" width="15" height="5"/><text class="s r" x="134" y="122.9">Thebe</text></g>
<g id="n-graien"><rect class="w" x="127" y="132" width="5" height="14"/><text class="c r" style="font-size:2.6px" transform="translate(130.5,139) rotate(-90)">GRAIEN</text>
<rect class="b" x="133" y="132" width="17" height="4.5"/><text class="r" style="font-size:3.2px" x="134" y="135.5">Enyo</text>
<rect class="b" x="133" y="136.5" width="17" height="4.5"/><text class="r" style="font-size:3.2px" x="134" y="140">Pemphredo</text>
<rect class="b" x="133" y="141" width="17" height="4.5"/><text class="r" style="font-size:3.2px" x="134" y="144.5">Deino</text></g>
<g id="n-gorgonen"><rect class="w" x="152" y="110" width="5" height="20"/><text class="c r" style="font-size:2.8px" transform="translate(155.5,120) rotate(-90)">GORGONEN</text>
<rect class="b" x="158" y="112" width="18" height="5"/><text class="s r" x="159" y="115.9">Medusa</text>
<rect class="b" x="158" y="118" width="18" height="5"/><text class="s r" x="159" y="121.9">Sthenno</text>
<rect class="b" x="158" y="124" width="18" height="5"/><text class="s r" x="159" y="127.9">Euryale</text></g>
<g id="n-nereiden"><rect class="w" x="152" y="148" width="5" height="26"/><text class="c r" style="font-size:2.8px" transform="translate(155.5,161) rotate(-90)">50 NEREIDEN</text>
<rect class="b" x="158" y="150" width="18" height="5"/><text class="s r" x="159" y="153.9">Psamathe</text>
<rect class="b" x="158" y="156" width="18" height="5"/><text class="s r" x="159" y="159.9">Galateia</text>
<rect class="b" x="158" y="162" width="18" height="5"/><text class="s r" x="159" y="165.9">Thetis</text>
<rect class="b" x="158" y="168" width="18" height="5"/><text class="s r" x="159" y="171.9">Amphitrite</text></g>
<g id="n-harpyien"><rect class="w" x="143" y="185" width="5" height="16"/><text class="c r" style="font-size:2.5px" transform="translate(146.5,193) rotate(-90)">HARPYIEN</text>
<rect class="b" x="149" y="185" width="17" height="4"/><text class="r" style="font-size:3px" x="150" y="188.2">Aello</text>
<rect class="b" x="149" y="189" width="17" height="4"/><text class="r" style="font-size:3px" x="150" y="192.2">Okypete</text>
<rect class="b" x="149" y="193" width="17" height="4"/><text class="r" style="font-size:3px" x="150" y="196.2">Kelaino</text>
<rect class="b" x="149" y="197" width="17" height="4"/><text class="r" style="font-size:3px" x="150" y="200.2">Podarge</text></g>
<g id="n-iris"><rect class="b" x="148" y="203" width="12" height="5"/><text class="s r" x="149.5" y="206.9">Iris</text></g>
<g id="n-iphimedeia"><rect class="b" x="185" y="113" width="21" height="5"/><text class="s r" x="186" y="116.9">Iphimedeia</text></g>
<g id="n-aloeus"><rect class="b" x="217" y="117" width="14" height="5"/><text class="s" x="218" y="120.9">Aloeus</text></g>
<g id="n-orion"><rect class="b" x="193" y="127" width="13" height="5"/><text class="s" x="194" y="130.9">Orion</text></g>
<g id="n-euryte"><rect class="b" x="188" y="137" width="14" height="5"/><text class="s r" x="189" y="140.9">Euryte</text></g>
<g id="n-thoosa"><rect class="b" x="188" y="142" width="14" height="5"/><text class="s r" x="189" y="145.9">Thoosa</text></g>
<g id="n-otos"><rect class="b" x="245" y="123" width="14" height="5"/><text class="s" x="246" y="126.9">Otos</text></g>
<g id="n-ephialtes"><rect class="b" x="245" y="129" width="17" height="5"/><text class="s" x="246" y="132.9">Ephialtes</text></g>
<g id="n-pegasos"><rect class="b" x="245" y="135" width="15" height="5"/><text class="s" x="246" y="138.9">Pegasos</text></g>
<g id="n-chrysaor"><rect class="b" x="245" y="140" width="18" height="5"/><text class="s" x="246" y="143.9">Chrysaor</text></g>
<g id="n-polyphemos"><rect class="b" x="240" y="149" width="23" height="5"/><text class="s" x="241" y="152.9">Polyphemos</text></g>
<g id="n-glaukos"><rect class="b" x="240" y="155" width="16" height="5"/><text class="s" x="241" y="158.9">Glaukos</text></g>
<g id="n-triton"><rect class="b" x="240" y="167" width="14" height="5"/><text class="s" x="241" y="170.9">Triton</text></g>
<g id="n-rhode"><rect class="b" x="240" y="172" width="13" height="5"/><text class="s r" x="241" y="175.9">Rhode</text></g>
<g id="n-benthesikyme"><rect class="b" x="240" y="177" width="25" height="5"/><text class="s r" x="241" y="180.9">Benthesikyme</text></g>
<g id="n-theseus"><rect class="b" x="245" y="188" width="15" height="5"/><text class="s" x="246" y="191.9">Theseus</text></g>
<g id="n-bellerophon"><rect class="b" x="243" y="193" width="21" height="5"/><text class="s" x="244" y="196.9">Bellerophon</text></g>
<g id="n-antaios"><rect class="b" x="243" y="198" width="15" height="5"/><text class="s" x="244" y="201.9">Antaios</text></g>
<g id="n-aithra"><rect class="b" x="187" y="193" width="14" height="5"/><text class="s r" x="188" y="196.9">Aithra</text></g>
<g id="n-eurynome2"><rect class="b" x="187" y="199" width="17" height="5"/><text class="s r" x="188" y="202.9">Eurynome</text></g>
<g id="n-poseidon"><rect class="k" x="167" y="180" width="41" height="8"/><text class="wb" style="font-size:6.8px" x="187.5" y="186.5">POSEIDON</text></g>
<!-- Titanen -->
<g id="n-titanen-label"><text class="c" style="font-size:6.5px" transform="translate(52.5,217) rotate(-90)">12 TITANEN</text></g>
<g id="n-okeaniden"><text class="c r" style="font-size:4.8px" transform="translate(96,224) rotate(-90)">3000 OKEANIDEN</text>
<rect class="b" x="100" y="180" width="18" height="5"/><text class="s r" x="101" y="183.9">Perseis</text>
<rect class="b" x="100" y="186" width="18" height="5"/><text class="s r" x="101" y="189.9">Idyia</text>
<rect class="b" x="100" y="192" width="18" height="5"/><text class="s r" x="101" y="195.9">Doris</text>
<rect class="b" x="100" y="198" width="18" height="5"/><text class="s r" x="101" y="201.9">Kallirrhoe</text>
<rect class="b" x="100" y="204" width="18" height="5"/><text class="s r" x="101" y="207.9">Elektra</text>
<rect class="b" x="100" y="210" width="18" height="5"/><text class="s r" x="101" y="213.9">Pleione</text>
<rect class="b" x="100" y="216" width="18" height="5"/><text class="s r" x="101" y="219.9">Tyche</text>
<rect class="b" x="100" y="222" width="18" height="5"/><text class="s r" x="101" y="225.9">Klymene</text>
<rect class="b" x="100" y="228" width="18" height="5"/><text class="s r" x="101" y="231.9">Eurynome</text>
<rect class="b" x="100" y="234" width="18" height="5"/><text class="s r" x="101" y="237.9">Dione</text>
<rect class="b" x="100" y="240" width="18" height="5"/><text class="s r" x="101" y="243.9">Metis</text>
<rect class="b" x="100" y="246" width="18" height="5"/><text class="s r" x="101" y="249.9">Styx</text>
<rect class="b" x="100" y="252" width="18" height="5"/><text class="s r" x="101" y="255.9">Philyra</text>
<rect class="b" x="100" y="258" width="18" height="5"/><text class="s r" x="101" y="261.9">Pluto</text>
<rect class="b" x="100" y="264" width="18" height="5"/><text class="s r" x="101" y="267.9">Asia</text>
</g>
<g id="n-okeanos"><rect class="b" x="60" y="234" width="23" height="6"/><text class="m" x="61" y="238.8">Okeanos</text></g>
<g id="n-tethys"><rect class="b" x="60" y="251" width="18" height="6"/><text class="m r" x="62" y="255.8">Tethys</text></g>
<g id="n-iapetos"><rect class="b" x="62" y="271" width="23" height="6"/><text class="m c" x="73.5" y="275.8">Iapetos</text></g>
<g id="n-koios"><rect class="b" x="62" y="288" width="18" height="6"/><text class="m" x="64" y="292.8">Koios</text></g>
<g id="n-phoibe"><rect class="b" x="62" y="305" width="18" height="6"/><text class="m r" x="63" y="309.8">Phoibe</text></g>
<g id="n-krios"><rect class="b" x="62" y="320" width="18" height="6"/><text class="m" x="64" y="324.8">Krios</text></g>
<g id="n-eurybia"><rect class="b" x="62" y="351" width="20" height="6"/><text class="m r" x="63" y="355.8">Eurybia</text></g>
<g id="n-themis"><rect class="b" x="62" y="377" width="38" height="6"/><text class="m r c" x="81" y="381.8">Themis</text></g>
<g id="n-kronos"><rect class="b" x="62" y="399" width="40" height="6"/><text class="m c" x="82" y="403.8">Kronos</text></g>
<g id="n-rhea"><rect class="b" x="63" y="421" width="39" height="6"/><text class="m r c" x="82.5" y="425.8">Rhea</text></g>
<g id="n-mnemosyne"><rect class="b" x="60" y="485" width="68" height="6"/><text class="m r c" x="94" y="489.8">Mnemosyne</text></g>
<g id="n-leto"><rect class="b" x="93" y="292" width="17" height="5.5"/><text class="m r" x="96" y="296.6">Leto</text></g>
<g id="n-asteria"><rect class="b" x="93" y="301" width="20" height="5.5"/><text class="m r" x="94" y="305.6">Asteria</text></g>
<g id="n-astraios"><rect class="b" x="91" y="326" width="24" height="6"/><text class="m" x="92.5" y="330.8">Astraios</text></g>
<g id="n-pallas"><rect class="b" x="91" y="335" width="22" height="6"/><text class="m" x="94" y="339.8">Pallas</text></g>
<g id="n-perses"><rect class="b" x="91" y="343" width="22" height="6"/><text class="m" x="93.5" y="347.8">Perses</text></g>
<g id="n-chaos"><rect class="w" x="3" y="274" width="11" height="52" style="stroke:#555"/><text class="c" style="font-size:6.5px"><tspan x="8.5" y="283">C</tspan><tspan x="8.5" y="293">H</tspan><tspan x="8.5" y="303">A</tspan><tspan x="8.5" y="313">O</tspan><tspan x="8.5" y="323">S</tspan></text></g>
<g id="n-gaia"><rect class="w" x="15" y="332" width="22" height="7"/><text class="m r c" style="font-size:5.5px" x="26" y="337.5">Gaia</text></g>
<g id="n-uranos"><rect class="w" x="7" y="384" width="24" height="7"/><text class="m" style="font-size:5.5px" x="8.5" y="389.5">Uranos</text></g>
<g id="n-uranos-blut"><rect class="b" x="7" y="392" width="30" height="4.5"/><text style="font-size:3px" x="8" y="395.4">Uranos Blut</text></g>
<g id="n-uranos-same"><rect class="b" x="7" y="397" width="30" height="4.5"/><text style="font-size:3px" x="8" y="400.4">Uranos Same</text></g>
<g id="n-atlas"><rect class="b" x="140" y="222" width="16" height="5"/><text class="s" x="141" y="225.9">Atlas</text></g>
<g id="n-menoitios"><rect class="b" x="140" y="228" width="18" height="5"/><text class="s" x="141" y="231.9">Menoitios</text></g>
<g id="n-kratos"><rect class="b" x="140" y="243" width="15" height="5"/><text class="s" x="141" y="246.9">Kratos</text></g>
<g id="n-bia"><rect class="b" x="140" y="249" width="15" height="5"/><text class="s" x="141" y="252.9">Bia</text></g>
<g id="n-zelos"><rect class="b" x="140" y="255" width="15" height="5"/><text class="s" x="141" y="258.9">Zelos</text></g>
<g id="n-nike"><rect class="b" x="140" y="261" width="15" height="5"/><text class="s r" x="141" y="264.9">Nike</text></g>
<g id="n-pyrrha"><rect class="b" x="140" y="268" width="14" height="5"/><text class="s r" x="141" y="271.9">Pyrrha</text></g>
<g id="n-deukalion0"><rect class="b" x="156" y="273" width="20" height="5"/><text class="s" x="157" y="276.9">Deukalion</text></g>
<g id="n-prometheus"><rect class="b" x="140" y="280" width="22" height="6"/><text class="m" style="font-size:4.4px" x="141" y="284.6">Prometheus</text></g>
<g id="n-epimetheus"><rect class="b" x="140" y="287" width="22" height="6"/><text class="m" style="font-size:4.4px" x="141" y="291.6">Epimetheus</text></g>
<g id="n-pandora"><rect class="b" x="140" y="299" width="17" height="5"/><text class="s r" x="141" y="302.9">Pandora</text></g>
<g id="n-hekate"><rect class="b" x="143" y="311" width="18" height="6"/><text class="m r" x="144" y="315.8">Hekate</text></g>
<g id="n-kalypso"><rect class="b" x="188" y="204" width="20" height="5"/><text class="s r" x="189" y="207.9">Kalypso</text></g>
<g id="n-dione"><rect class="b" x="188" y="210" width="20" height="5"/><text class="s r" x="189" y="213.9">Dione</text></g>
<g id="n-hesperos"><rect class="b" x="188" y="218" width="20" height="5"/><text class="s" x="189" y="221.9">Hesperos</text></g>
<g id="n-hyas"><rect class="b" x="231" y="216" width="12" height="5"/><text class="s" x="232" y="219.9">Hyas</text></g>
<g id="n-hesperiden"><rect class="w" x="188" y="227" width="5" height="37"/><text class="c r" style="font-size:3.2px" transform="translate(191.6,245.5) rotate(-90)">HESPERIDEN</text>
<rect class="b" x="195" y="227" width="21" height="5"/><text class="s r" x="196" y="230.9">Aigle</text>
<rect class="b" x="195" y="232.3" width="21" height="5"/><text class="s r" x="196" y="236.2">Erytheia</text>
<rect class="b" x="195" y="237.6" width="21" height="5"/><text class="s r" x="196" y="241.5">Arethusa</text>
<rect class="b" x="195" y="242.9" width="21" height="5"/><text class="s r" x="196" y="246.8">Hestia</text>
<rect class="b" x="195" y="248.2" width="21" height="5"/><text class="s r" x="196" y="252.1">Hespere</text>
<rect class="b" x="195" y="253.5" width="21" height="5"/><text class="s r" x="196" y="257.4">Hesperusa</text>
<rect class="b" x="195" y="258.8" width="21" height="5"/><text class="s r" x="196" y="262.7">Hesperia</text></g>
<g id="n-pleiaden"><rect class="w" x="188" y="266" width="5" height="38"/><text class="c r" style="font-size:3.2px" transform="translate(191.6,285) rotate(-90)">PLEIADEN</text>
<rect class="b" x="195" y="266" width="21" height="5"/><text class="s r" x="196" y="269.9">Elektra</text>
<rect class="b" x="195" y="271.4" width="21" height="5"/><text class="s r" x="196" y="275.3">Sterope</text>
<rect class="b" x="195" y="276.8" width="21" height="5"/><text class="s r" x="196" y="280.7">Alkyone</text>
<rect class="b" x="195" y="282.2" width="21" height="5"/><text class="s r" x="196" y="286.1">Kelaino</text>
<rect class="b" x="195" y="287.6" width="21" height="5"/><text class="s r" x="196" y="291.5">Taygete</text>
<rect class="b" x="195" y="293" width="21" height="5"/><text class="s r" x="196" y="296.9">Merope</text>
<rect class="b" x="195" y="298.4" width="21" height="5"/><text class="s r" x="196" y="302.3">Maia</text></g>
<g id="n-hyaden"><rect class="w" x="229" y="222" width="5" height="40"/><text class="c r" style="font-size:3.2px" transform="translate(232.6,242) rotate(-90)">5 HYADEN</text></g>
<g id="n-bateia"><rect class="b" x="238" y="249" width="15" height="5"/><text class="s r" x="239" y="252.9">Bateia</text></g>
<g id="n-kreusa"><rect class="b" x="237" y="257" width="15" height="5"/><text class="s r" x="238" y="260.9">Kreusa</text></g>
<g id="n-orseis"><rect class="b" x="237" y="264" width="15" height="5"/><text class="s r" x="238" y="267.9">Orseis</text></g>
<g id="n-hellen"><rect class="b" x="237" y="279" width="14" height="5"/><text class="s" x="238" y="282.9">Hellen</text></g>
<g id="n-dardanos"><rect class="b" x="237" y="286" width="18" height="5"/><text class="s" x="238" y="289.9">Dardanos</text></g>
<g id="n-iasion"><rect class="b" x="237" y="293" width="14" height="5"/><text class="s" x="238" y="296.9">Iasion</text></g>
<g id="n-lakedaimon"><rect class="b" x="237" y="299" width="21" height="5"/><text class="s" x="238" y="302.9">Lakedaimon</text></g>
<g id="n-doros"><rect class="b" x="265" y="267" width="13" height="5"/><text class="s" x="266" y="270.9">Doros</text></g>
<g id="n-xuthos"><rect class="b" x="265" y="273" width="13" height="5"/><text class="s" x="266" y="276.9">Xuthos</text></g>
<g id="n-aiolos"><rect class="b" x="265" y="279" width="13" height="5"/><text class="s" x="266" y="282.9">Aiolos</text></g>
<g id="n-sisyphos"><rect class="b" x="285" y="273" width="18" height="5"/><text class="s" x="286" y="276.9">Sisyphos</text></g>
<g id="n-ilos"><rect class="b" x="282" y="256" width="10" height="5"/><text class="s" x="283" y="259.9">Ilos</text></g>
<g id="n-laomedon"><rect class="b" x="301" y="256" width="18" height="5"/><text class="s" x="302" y="259.9">Laomedon</text></g>
<g id="n-achaios"><rect class="b" x="282" y="284" width="14" height="5"/><text class="s" x="283" y="287.9">Achaios</text></g>
<g id="n-ion"><rect class="b" x="282" y="290" width="10" height="5"/><text class="s" x="283" y="293.9">Ion</text></g>
<g id="n-plutos"><rect class="b" x="280" y="297" width="22" height="6"/><text class="m" x="282" y="301.8">Plutos</text></g>
<g id="n-athene"><rect class="q" x="240" y="304" width="34" height="7"/><text class="wb" style="font-size:5.8px" x="257" y="309.6">ATHENE</text></g>
<g id="n-artemis"><rect class="q" x="240" y="312" width="34" height="7"/><text class="wb" style="font-size:5.8px" x="257" y="317.6">ARTEMIS</text></g>
<g id="n-apollon"><rect class="k" x="240" y="326" width="28" height="7"/><text class="wb" style="font-size:5.5px" x="254" y="331.5">APOLLON</text></g>
<g id="n-tantalos"><rect class="b" x="233" y="334" width="19" height="5"/><text class="s" x="234" y="337.9">Tantalos</text></g>
<g id="n-koronis"><rect class="b" x="245" y="341" width="17" height="5"/><text class="s r" x="246" y="344.9">Koronis</text></g>
<g id="n-zeus"><rect class="k" x="127" y="350" width="72" height="13"/><text class="wb" style="font-size:13px" x="163" y="361.5">ZEUS</text></g>
<g id="n-hermes"><rect class="k" x="237" y="354" width="34" height="8"/><text class="wb" style="font-size:6.3px" x="254" y="360.3">HERMES</text></g>
<g id="n-zagreus"><rect class="b" x="245" y="362" width="21" height="6"/><text class="m" x="246" y="366.8">Zagreus</text></g>
<g id="n-iakchos"><rect class="b" x="245" y="370" width="21" height="6"/><text class="m" x="246" y="374.8">Iakchos</text></g>
<g id="n-persephone"><rect class="b" x="234" y="379" width="31" height="6"/><text class="m r" x="235" y="383.8">Persephone</text></g>
<g id="n-hades"><rect class="w" x="142" y="377" width="28" height="8"/><text class="c" style="font-size:7px" x="156" y="383.5">Hades</text></g>
<g id="n-demeter"><rect class="q" x="142" y="389" width="55" height="8"/><text class="wb" style="font-size:6.5px" x="169.5" y="395.5">DEMETER</text></g>
<g id="n-despoina"><rect class="b" x="234" y="390" width="19" height="5"/><text class="s r" x="235" y="393.9">Despoina</text></g>
<g id="n-arion"><rect class="b" x="234" y="396" width="15" height="5"/><text class="s r" x="235" y="399.9">Arion</text></g>
<g id="n-aphrodite"><rect class="q" x="240" y="406" width="46" height="7"/><text class="wb" style="font-size:5.8px" x="263" y="411.6">APHRODITE</text></g>
<g id="n-hephaistos"><rect class="k" x="240" y="427" width="44" height="7"/><text class="wb" style="font-size:5.8px" x="262" y="432.6">HEPHAISTOS</text></g>
<g id="n-ares"><rect class="k" x="240" y="436" width="44" height="7"/><text class="wb" style="font-size:5.8px" x="262" y="441.6">ARES</text></g>
<g id="n-eileithyia"><rect class="w" x="236" y="446" width="26" height="7"/><text class="m r c" x="249" y="451.3">Eileithyia</text></g>
<g id="n-hebe"><rect class="w" x="236" y="456" width="26" height="7"/><text class="m r c" x="249" y="461.3">Hebe</text></g>
<g id="n-anchises"><rect class="b" x="266" y="456" width="19" height="5"/><text class="s" x="267" y="459.9">Anchises</text></g>
<g id="n-hera"><rect class="q" x="127" y="457" width="61" height="10"/><text class="wb" style="font-size:9px" x="157.5" y="465.3">HERA</text></g>
<g id="n-hestia"><rect class="q" x="127" y="467" width="61" height="10"/><text class="wb" style="font-size:9px" x="157.5" y="475.3">HESTIA</text></g>
<g id="n-wives1"><rect class="w" x="146" y="416" width="4" height="16"/>
<rect class="b" x="151" y="416" width="14" height="5"/><text class="s r" x="152" y="419.9">Kallisto</text>
<rect class="b" x="165" y="416" width="9" height="5"/><text class="s r" x="166" y="419.9">Aix</text>
<rect class="b" x="151" y="421.5" width="14" height="5"/><text class="s r" x="152" y="425.4">Lamia</text>
<rect class="b" x="151" y="427" width="14" height="5"/><text class="s r" x="152" y="430.9">Aigina</text></g>
<g id="n-wives2"><rect class="w" x="146" y="437" width="4" height="16"/>
<rect class="b" x="151" y="437" width="12" height="5"/><text class="s r" x="152" y="440.9">Thalia</text>
<rect class="b" x="163" y="437" width="16" height="5"/><text class="s r" x="164" y="440.9">Eurynome</text>
<rect class="b" x="151" y="442.5" width="12" height="5"/><text class="s r" x="152" y="446.4">Niobe</text>
<rect class="b" x="163" y="442.5" width="10" height="5"/><text class="s r" x="164" y="446.4">Dia</text>
<rect class="b" x="151" y="448" width="12" height="5"/><text class="s r" x="152" y="451.9">Karme</text>
<rect class="b" x="163" y="448" width="12" height="5"/><text class="s r" x="164" y="451.9">Elare</text></g>
<g id="n-musen"><rect class="w" x="145" y="478" width="40" height="48"/><text class="c r" style="font-size:3.6px" transform="translate(150,502) rotate(-90)">MUSEN</text>
<text class="r" style="font-size:3.6px"><tspan x="154" y="482.5">Klio</tspan><tspan x="154" y="487.5">Melpomene</tspan><tspan x="154" y="492.5">Terpsichore</tspan><tspan x="154" y="497.5">Thaleia</tspan><tspan x="154" y="502.5">Euterpe</tspan><tspan x="154" y="507.5">Erato</tspan><tspan x="154" y="512.5">Urania</tspan><tspan x="154" y="517.5">Polyhymnia</tspan><tspan x="154" y="522.5">Kalliope</tspan></text></g>
<g id="n-herakles"><rect class="b" x="235" y="470" width="28" height="6"/><text class="m" x="237" y="474.8">Herakles</text></g>
<g id="n-alkmene"><rect class="b" x="196" y="476" width="16" height="5"/><text class="s r" x="197" y="479.9">Alkmene</text></g>
<g id="n-britomartis"><rect class="b" x="236" y="482" width="29" height="6"/><text class="m r" x="237" y="486.8">Britomartis</text></g>
<g id="n-karme"><rect class="b" x="196" y="488" width="14" height="5"/><text class="s r" x="197" y="491.9">Karme</text></g>
<g id="n-dionysos"><rect class="b" x="235" y="502" width="28" height="6"/><text class="m" x="237" y="506.8">Dionysos</text></g>
<g id="n-semele"><rect class="b" x="192" y="510" width="16" height="5"/><text class="s r" x="193" y="513.9">Semele</text></g>
<g id="n-dioskuren"><rect class="w" x="237" y="515" width="4.5" height="19"/><text class="c" style="font-size:2.6px" transform="translate(240.2,524.5) rotate(-90)">DIOSKUREN</text></g>
<g id="n-kastor"><rect class="b" x="242" y="517" width="21" height="5"/><text class="s" x="243" y="520.9">Kastor</text></g>
<g id="n-polydeukes"><rect class="b" x="242" y="523" width="21" height="5"/><text class="s" x="243" y="526.9">Polydeukes</text></g>
<g id="n-leda"><rect class="b" x="189" y="533" width="16" height="5"/><text class="s r" x="190" y="536.9">Leda</text></g>
<g id="n-tyndareos"><rect class="b" x="189" y="542" width="21" height="5"/><text class="s" x="190" y="545.9">Tyndareos</text></g>
<g id="n-klytaimnestra"><rect class="b" x="235" y="537" width="29" height="5"/><text class="s r" x="236" y="540.9">Klytaimnestra</text></g>
<g id="n-helena"><rect class="b" x="235" y="546" width="18" height="5"/><text class="s r" x="236" y="549.9">Helena</text></g>
<g id="n-perseus"><rect class="b" x="235" y="554" width="19" height="5"/><text class="s" x="236" y="557.9">Perseus</text></g>
<g id="n-danae"><rect class="b" x="187" y="560" width="16" height="5"/><text class="s r" x="188" y="563.9">Danae</text></g>
<g id="n-ate"><rect class="w" x="236" y="576" width="21" height="6"/><text class="m r c" x="246.5" y="580.8">Ate</text></g>
<!-- right middle -->
<g id="n-hippodameia"><rect class="b" x="324" y="206" width="24" height="5"/><text class="s r" x="325" y="209.9">Hippodameia</text></g>
<g id="n-pelops"><rect class="b" x="321" y="218" width="15" height="5"/><text class="s" x="322" y="221.9">Pelops</text></g>
<g id="n-broteas"><rect class="b" x="321" y="224" width="15" height="5"/><text class="s" x="322" y="227.9">Broteas</text></g>
<g id="n-niobe"><rect class="b" x="321" y="230" width="15" height="5"/><text class="s r" x="322" y="233.9">Niobe</text></g>
<g id="n-thyestes"><rect class="b" x="351" y="212" width="17" height="5"/><text class="s" x="352" y="215.9">Thyestes</text></g>
<g id="n-atreus"><rect class="b" x="351" y="218" width="17" height="5"/><text class="s" x="352" y="221.9">Atreus</text></g>
<g id="n-aerope"><rect class="b" x="351" y="229" width="15" height="5"/><text class="s r" x="352" y="232.9">Aerope</text></g>
<g id="n-agamemnon"><rect class="b" x="389" y="219" width="24" height="5"/><text class="s" x="390" y="222.9">Agamemnon</text></g>
<g id="n-menelaos"><rect class="b" x="389" y="225" width="24" height="5"/><text class="s" x="390" y="228.9">Menelaos</text></g>
<g id="n-anaxibia"><rect class="b" x="389" y="231" width="20" height="5"/><text class="s r" x="390" y="234.9">Anaxibia</text></g>
<g id="n-orestes"><rect class="b" x="446" y="214" width="24" height="5"/><text class="s" x="447" y="217.9">Orestes</text></g>
<g id="n-elektra2"><rect class="b" x="446" y="220" width="24" height="5"/><text class="s r" x="447" y="223.9">Elektra</text></g>
<g id="n-iphigeneia"><rect class="b" x="446" y="226" width="24" height="5"/><text class="s r" x="447" y="229.9">Iphigeneia</text></g>
<g id="n-chrysothemis"><rect class="b" x="446" y="232" width="25" height="5"/><text class="s r" x="447" y="235.9">Chrysothemis</text></g>
<g id="n-hekabe"><rect class="b" x="331" y="242" width="15" height="5"/><text class="s r" x="332" y="245.9">Hekabe</text></g>
<g id="n-hektor"><rect class="b" x="357" y="238" width="18" height="5"/><text class="s" x="358" y="241.9">Hektor</text></g>
<g id="n-kassandra"><rect class="b" x="357" y="244" width="18" height="5"/><text class="s" x="358" y="247.9">Kassandra</text></g>
<g id="n-paris"><rect class="b" x="357" y="250" width="18" height="5"/><text class="s" x="358" y="253.9">Paris</text></g>
<g id="n-polyxena"><rect class="b" x="357" y="256" width="18" height="5"/><text class="s" x="358" y="259.9">Polyxena</text></g>
<g id="n-priamos"><rect class="b" x="331" y="257" width="15" height="5"/><text class="s" x="332" y="260.9">Priamos</text></g>
<g id="n-kentauros"><rect class="b" x="321" y="277" width="20" height="5"/><text class="s" x="322" y="280.9">Kentauros</text></g>
<g id="n-lapithes"><rect class="b" x="321" y="283" width="20" height="5"/><text class="s" x="322" y="286.9">Lapithes</text></g>
<g id="n-lapithen-kentauren"><rect class="w" x="348" y="258" width="5" height="46"/><text class="c" style="font-size:3px" transform="translate(351.5,281) rotate(-90)">LAPITHEN KENTAUREN</text></g>
<g id="n-idmon"><rect class="b" x="316" y="308" width="13" height="5"/><text class="s" x="317" y="311.9">Idmon</text></g>
<g id="n-aristaios"><rect class="b" x="316" y="315" width="17" height="5"/><text class="s" x="317" y="318.9">Aristaios</text></g>
<g id="n-orpheus"><rect class="b" x="316" y="323" width="26" height="7"/><text class="m" style="font-size:5.5px" x="317.5" y="328.6">Orpheus</text></g>
<g id="n-asklepios"><rect class="b" x="316" y="330" width="26" height="7"/><text class="m" style="font-size:5.5px" x="317" y="335.6">Asklepios</text></g>
<g id="n-hygieia"><rect class="w" x="357" y="327" width="26" height="6"/><text class="m r c" x="370" y="331.8">Hygieia</text></g>
<g id="n-panakeia"><rect class="w" x="357" y="333" width="26" height="6"/><text class="m r c" x="370" y="337.8">Panakeia</text></g>
<g id="n-iamos"><rect class="b" x="334" y="338" width="14" height="5"/><text class="s" x="335" y="341.9">Iamos</text></g>
<g id="n-aix"><rect class="b" x="316" y="346" width="10" height="5"/><text class="s r" x="317" y="349.9">Aix</text></g>
<g id="n-syrinx"><rect class="b" x="331" y="343" width="16" height="5"/><text class="s r" x="332" y="346.9">Syrinx</text></g>
<g id="n-akis"><rect class="b" x="352" y="349" width="13" height="5"/><text class="s" x="353" y="352.9">Akis</text></g>
<g id="n-pan"><rect class="b" x="316" y="355" width="16" height="6"/><text class="m" x="318" y="359.8">Pan</text></g>
<g id="n-silenos"><rect class="b" x="341" y="356" width="17" height="5"/><text class="s" x="342" y="359.9">Silenos</text></g>
<g id="n-euandros"><rect class="b" x="316" y="362" width="17" height="5"/><text class="s" x="317" y="365.9">Euandros</text></g>
<g id="n-hermaphroditos"><rect class="b" x="316" y="369" width="41" height="7"/><text class="m" style="font-size:5.3px" x="317" y="374.5">Hermaphroditos</text></g>
<g id="n-priapos"><rect class="b" x="316" y="376" width="25" height="7"/><text class="m" style="font-size:5.3px" x="317.5" y="381.5">Priapos</text></g>
<g id="n-eros"><rect class="b" x="316" y="386" width="22" height="6"/><text class="m" x="318" y="390.8">Eros</text></g>
<g id="n-anteros"><rect class="b" x="316" y="392" width="26" height="6"/><text class="m" x="318" y="396.8">Anteros</text></g>
<g id="n-psyche"><rect class="w" x="351" y="385" width="26" height="7"/><text class="m r c" style="font-size:5.5px" x="364" y="390.4">Psyche</text></g>
<g id="n-harmonia"><rect class="w" x="315" y="401" width="27" height="6"/><text class="m r" x="316.5" y="405.8">Harmonia</text></g>
<g id="n-ino"><rect class="w" x="386" y="402" width="46" height="6"/><text class="m r" x="387.5" y="406.8">Ino → Leukothea</text></g>
<g id="n-deimos"><rect class="b" x="316" y="410" width="26" height="6"/><text class="m" x="318" y="414.8">Deimos</text></g>
<g id="n-phobos"><rect class="b" x="316" y="417" width="26" height="6"/><text class="m" x="318" y="421.8">Phobos</text></g>
<g id="n-erichthonios"><rect class="b" x="316" y="425" width="25" height="5"/><text class="s" x="317" y="428.9">Erichthonios</text></g>
<g id="n-pandion"><rect class="b" x="327" y="431" width="17" height="5"/><text class="s" x="328" y="434.9">Pandion</text></g>
<g id="n-erechtheus"><rect class="b" x="340" y="437" width="21" height="5"/><text class="s" x="341" y="440.9">Erechtheus</text></g>
<g id="n-metion"><rect class="b" x="352" y="443" width="16" height="5"/><text class="s" x="353" y="446.9">Metion</text></g>
<g id="n-daidalos"><rect class="b" x="362" y="449" width="16" height="5"/><text class="s" x="363" y="452.9">Daidalos</text></g>
<g id="n-ikaros"><rect class="b" x="372" y="455" width="15" height="5"/><text class="s" x="373" y="458.9">Ikaros</text></g>
<g id="n-aineias"><rect class="b" x="315" y="447" width="21" height="5"/><text class="s" x="316" y="450.9">Aineias</text></g>
<g id="n-alkaios"><rect class="b" x="315" y="461" width="19" height="5"/><text class="s" x="316" y="464.9">Alexiares</text></g>
<g id="n-askanios"><rect class="b" x="315" y="467" width="19" height="5"/><text class="s" x="316" y="470.9">Anicetus</text></g>
<g id="n-hymenaios"><rect class="b" x="315" y="483" width="31" height="6"/><text class="m" x="316.5" y="487.8">Hymenaios</text></g>
<g id="n-agave"><rect class="b" x="388" y="411" width="16" height="5"/><text class="s r" x="389" y="414.9">Agave</text></g>
<g id="n-polydoros"><rect class="b" x="388" y="418" width="17" height="5"/><text class="s" x="389" y="421.9">Polydoros</text></g>
<g id="n-illyrios"><rect class="b" x="388" y="426" width="14" height="5"/><text class="s" x="389" y="429.9">Illyrios</text></g>
<g id="n-pentheus"><rect class="b" x="419" y="411" width="19" height="5"/><text class="s" x="420" y="414.9">Pentheus</text></g>
<g id="n-labdakos"><rect class="b" x="419" y="418" width="21" height="5"/><text class="s" x="420" y="421.9">Labdakos</text></g>
<g id="n-laios"><rect class="b" x="417" y="438" width="15" height="5"/><text class="s" x="418" y="441.9">Laios</text></g>
<g id="n-iokaste"><rect class="b" x="391" y="438" width="18" height="5"/><text class="s r" x="392" y="441.9">Iokaste</text></g>
<g id="n-oidipus"><rect class="b" x="404" y="452" width="16" height="5"/><text class="s" x="405" y="455.9">Oidipus</text></g>
<g id="n-polyneikes"><rect class="b" x="410" y="458" width="22" height="5"/><text class="s" x="411" y="461.9">Polyneikes</text></g>
<g id="n-antigone"><rect class="b" x="410" y="465" width="20" height="5"/><text class="s r" x="411" y="468.9">Antigone</text></g>
<g id="n-ismene"><rect class="b" x="410" y="472" width="17" height="5"/><text class="s r" x="411" y="475.9">Ismene</text></g>
<g id="n-eteokles"><rect class="b" x="410" y="479" width="18" height="5"/><text class="s" x="411" y="482.9">Eteokles</text></g>
<!-- bottom left -->
<g id="n-kyklopen"><rect class="w" x="8" y="416" width="26" height="21"/><text class="c" style="font-size:2.6px" transform="translate(12,426.5) rotate(-90)">KYKLOPEN</text>
<text style="font-size:3.4px"><tspan x="16" y="422">Arges</tspan><tspan x="16" y="427">Brontes</tspan><tspan x="16" y="432">Steropes</tspan></text></g>
<g id="n-hekatoncheiren"><rect class="w" x="8" y="439" width="26" height="33"/><text class="c" style="font-size:2.6px" transform="translate(12,455.5) rotate(-90)">HEKATONCHEIREN</text>
<text style="font-size:3.4px"><tspan x="16" y="450">Kottos</tspan><tspan x="16" y="456">Briareos</tspan><tspan x="16" y="462">Gyges</tspan></text></g>
<g id="n-giganten"><rect class="w" x="8" y="474" width="30" height="56"/><text class="c" style="font-size:3px" transform="translate(12,502) rotate(-90)">24 GIGANTEN</text>
<text style="font-size:3.1px"><tspan x="15.5" y="478">Agrios</tspan><tspan x="15.5" y="482">Alkyoneus</tspan><tspan x="15.5" y="486">Enkelados</tspan><tspan x="15.5" y="490">Ephialtes</tspan><tspan x="15.5" y="494">Eurymedon</tspan><tspan x="15.5" y="498">Gration</tspan><tspan x="15.5" y="502">Hippolytos</tspan><tspan x="15.5" y="506">Klytios</tspan><tspan x="15.5" y="510">Mimas</tspan><tspan x="15.5" y="514">Pallas</tspan><tspan x="15.5" y="518">Polybotes</tspan><tspan x="15.5" y="522">Porphyrion</tspan><tspan x="15.5" y="526">Thoas</tspan></text></g>
<g id="n-erinyen"><rect class="w" x="63" y="433" width="5" height="15"/><text class="c r" style="font-size:2.4px" transform="translate(66.3,440.5) rotate(-90)">ERINYEN</text>
<rect class="b" x="69" y="433" width="13" height="5"/><text class="r" style="font-size:3.2px" x="70" y="436.7">Alekto</text>
<rect class="b" x="69" y="438" width="13" height="5"/><text class="r" style="font-size:3.2px" x="70" y="441.7">Megaira</text>
<rect class="b" x="69" y="443" width="13" height="5"/><text class="r" style="font-size:3.2px" x="70" y="446.7">Tisiphone</text></g>
<g id="n-meliai"><rect class="w" x="63" y="452" width="5" height="17"/><text class="c r" style="font-size:2.8px" transform="translate(66.4,460.5) rotate(-90)">MELIAI</text></g>
<g id="n-kroniden"><rect class="w" x="108" y="416" width="9" height="48"/><text class="c" style="font-size:6.3px" transform="translate(114.8,440) rotate(-90)">6 KRONIDEN</text></g>
<g id="n-nyx-kids">
<rect class="b" x="60" y="516" width="28" height="6"/><text class="m r c" x="74" y="520.6">Nemesis</text>
<rect class="b" x="60" y="523.5" width="28" height="6"/><text class="m c" x="74" y="528.1">Geras</text>
<rect class="b" x="60" y="531" width="28" height="6"/><text class="m c" x="74" y="535.6">Thanatos</text>
<rect class="b" x="60" y="538.5" width="28" height="6"/><text class="m c" x="74" y="543.1">Moros</text>
<rect class="b" x="60" y="546" width="28" height="6"/><text class="m r c" x="74" y="550.6">Ker</text>
<rect class="b" x="60" y="553.5" width="28" height="6"/><text class="m c" x="74" y="558.1">Momos</text>
<rect class="b" x="60" y="561" width="28" height="6"/><text class="m c" x="74" y="565.6">Hypnos</text>
<rect class="b" x="60" y="568.5" width="28" height="6"/><text class="m c" x="74" y="573.1">Oizys</text>
<rect class="b" x="60" y="576" width="28" height="6"/><text class="m r c" x="74" y="580.6">Eris</text>
<rect class="b" x="60" y="583.5" width="57" height="6"/><text class="m" style="font-size:4.6px" x="61.5" y="588.1">1000 Oneiroi (Träume)</text>
</g>
<g id="n-morpheus"><rect class="b" x="104" y="561" width="28" height="6"/><text class="m" x="105.5" y="565.6">Morpheus</text></g>
<g id="n-nyx"><rect class="w" x="3" y="592" width="30" height="6"/><text class="m r c" x="18" y="596.8">Nyx</text></g>
<g id="n-erebos"><rect class="w" x="3" y="608" width="20" height="7"/><text class="m c" x="13" y="613.5">Erebos</text></g>
<g id="n-aither"><rect class="b" x="60" y="594" width="28" height="6"/><text class="m c" x="74" y="598.6">Aither</text></g>
<g id="n-hemera"><rect class="b" x="60" y="601" width="28" height="6"/><text class="m r c" x="74" y="605.6">Hemera</text></g>
<g id="n-charon"><rect class="b" x="60" y="608" width="28" height="6"/><text class="m c" x="74" y="612.6">Charon</text></g>
</g>
</svg>
